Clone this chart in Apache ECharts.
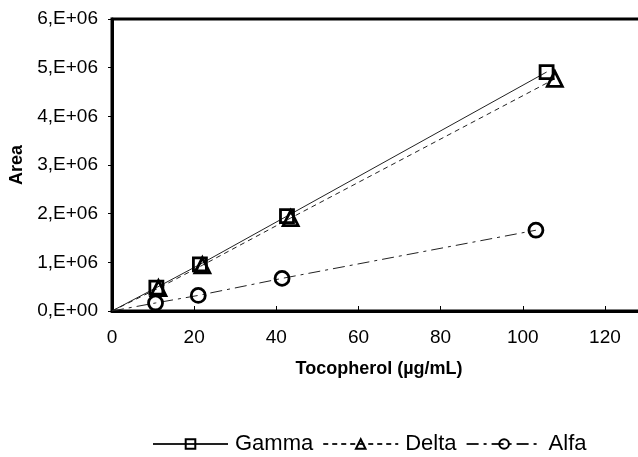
<!DOCTYPE html>
<html><head><meta charset="utf-8">
<script src="https://cdn.jsdelivr.net/npm/echarts@6/dist/echarts.min.js"></script>
<style>html,body{margin:0;padding:0;background:#fff}#c{width:638px;height:457px}</style>
</head><body><div id="c"></div>
<script>
const seriesNames = ['Gamma', 'Delta', 'Alfa'];
const gammaX = [0, 10.8, 21.4, 42.6, 105.8];
const gammaY = [0, 480000, 957000, 1950000, 4910000];
const deltaX = [0, 11.3, 22.0, 43.5, 107.8];
const deltaY = [0, 470000, 940000, 1910000, 4770000];
const alfaX = [0, 10.6, 21.0, 41.4, 103.2];
const alfaY = [0, 165000, 320000, 670000, 1660000];
const yTickLabels = ['0,E+00','1,E+06','2,E+06','3,E+06','4,E+06','5,E+06','6,E+06'];

function pts(xs, ys) {
  return xs.map((x, i) => i === 0 ? {value: [x, ys[i]], symbol: 'none'} : [x, ys[i]]);
}
const font = 'Liberation Sans, Arial, sans-serif';
const chart = echarts.init(document.getElementById('c'), null, {renderer: 'canvas'});
const mk = (name, xs, ys, symbol, size, lineType) => ({
  name, type: 'line', data: pts(xs, ys), symbol, symbolSize: size,
  showAllSymbol: true,
  lineStyle: {color: '#222', width: 1, type: lineType},
  itemStyle: {color: 'rgba(255,255,255,0)', borderColor: '#000', borderWidth: 2.8},
  emphasis: {disabled: true}, animation: false, z: 3
});
chart.setOption({
  animation: false,
  backgroundColor: '#fff',
  grid: {left: 112, top: 19, right: -8, bottom: 146, show: true, borderColor: '#000', borderWidth: 3,
    backgroundColor: 'transparent', containLabel: false, outerBoundsMode: 'none'},
  legend: {
    data: seriesNames, top: 428, left: 147, itemWidth: 75, itemHeight: 12, itemGap: 9,
    textStyle: {fontFamily: font, fontSize: 22, color: '#000', padding: [0, 0, 0, 2]}
  },
  xAxis: {
    type: 'value', min: 0, max: 130, interval: 20,
    name: 'Tocopherol (µg/mL)', nameLocation: 'middle', nameGap: 49,
    nameTextStyle: {fontFamily: font, fontSize: 18, fontWeight: 'bold', color: '#000'},
    axisLine: {show: true, lineStyle: {color: '#000', width: 3}},
    axisTick: {show: true, inside: true, length: 5, lineStyle: {color: '#000'}},
    axisLabel: {fontFamily: font, fontSize: 19, color: '#000', margin: 17, showMaxLabel: false},
    splitLine: {show: false}
  },
  yAxis: {
    type: 'value', min: 0, max: 6000000, interval: 1000000,
    name: 'Area', nameLocation: 'middle', nameGap: 82, nameRotate: 90,
    nameTextStyle: {fontFamily: font, fontSize: 18, fontWeight: 'bold', color: '#000'},
    axisLine: {show: true, lineStyle: {color: '#000', width: 3}},
    axisTick: {show: true, inside: false, length: 4, lineStyle: {color: '#000'}},
    axisLabel: {fontFamily: font, fontSize: 19, color: '#000', margin: 14,
      formatter: (v) => yTickLabels[Math.round(v / 1000000)]},
    splitLine: {show: false}
  },
  series: [
    mk('Gamma', gammaX, gammaY, 'rect', 13, 'solid'),
    mk('Delta', deltaX, deltaY, 'triangle', 15, [5, 4]),
    mk('Alfa', alfaX, alfaY, 'circle', 14, [12, 5, 3, 5])
  ]
});
</script></body></html>
